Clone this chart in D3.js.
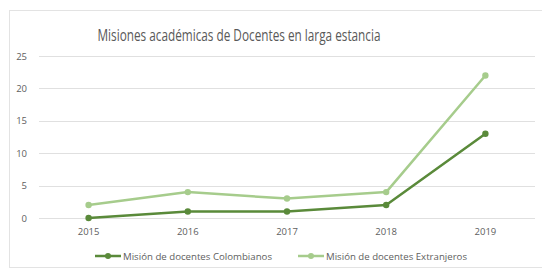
<!DOCTYPE html>
<html><head><meta charset="utf-8">
<script src="https://cdn.jsdelivr.net/npm/d3@7"></script>
<style>body{margin:0;background:#fff;}svg{display:block;}</style>
</head><body>
<svg id="c" width="542" height="269"></svg>
<script>
const years = ["2015","2016","2017","2018","2019"];
const colombianos = [0,1,1,2,13];
const extranjeros = [2,4,3,4,22];
const yTicks = [0,5,10,15,20,25];
const seriesNames = ["Misión de docentes Colombianos","Misión de docentes Extranjeros"];
const seriesColors = ["#5a8a3a","#a6cc8c"];
const title = "Misiones académicas de Docentes en larga estancia";

const svg = d3.select("#c");
const font = "'Open Sans', 'Liberation Sans', sans-serif";
// chart border
svg.append("rect").attr("x",9.5).attr("y",10.5).attr("width",560).attr("height",257)
  .attr("fill","#fff").attr("stroke","#e3e3e3");

const x = d3.scalePoint().domain(years).range([39,535]).padding(0.5);
const y = d3.scaleLinear().domain([0,25]).range([218,56]);

// grid
svg.append("g").selectAll("line").data(yTicks).join("line")
  .attr("x1",39).attr("x2",535).attr("y1",d=>Math.round(y(d))+0.5).attr("y2",d=>Math.round(y(d))+0.5)
  .attr("stroke","#e0e0e0").attr("stroke-width",1);

// y labels
svg.append("g").selectAll("text").data(yTicks).join("text")
  .attr("x",27).attr("y",d=>y(d)+3.5).attr("text-anchor","end")
  .attr("font-family",font).attr("font-size",9.5).attr("fill","#606060").text(d=>d);

// x labels
svg.append("g").selectAll("text").data(years).join("text")
  .attr("x",d=>x(d)).attr("y",235).attr("text-anchor","middle")
  .attr("font-family",font).attr("font-size",9.5).attr("fill","#606060").text(d=>d);

// title
svg.append("text").attr("x",239).attr("y",40.5).attr("text-anchor","middle")
  .attr("font-family",font).attr("font-size",15.5).attr("fill","#595959")
  .attr("textLength",283).attr("lengthAdjust","spacingAndGlyphs").text(title);

const line = d3.line().x((d,i)=>x(years[i])).y(d=>y(d));
[extranjeros, colombianos].forEach((data,k)=>{
  const idx = k===0?1:0;
  const g = svg.append("g");
  g.append("path").attr("d",line(data)).attr("fill","none")
    .attr("stroke",seriesColors[idx]).attr("stroke-width",2.5).attr("stroke-linejoin","round");
  g.selectAll("circle").data(data).join("circle")
    .attr("cx",(d,i)=>x(years[i])).attr("cy",d=>y(d)).attr("r",3.2).attr("fill",seriesColors[idx]);
});

// legend
const legX = [95, 298];
seriesNames.forEach((n,i)=>{
  const g = svg.append("g");
  g.append("line").attr("x1",legX[i]).attr("x2",legX[i]+26).attr("y1",256).attr("y2",256)
    .attr("stroke",seriesColors[i]).attr("stroke-width",2.5);
  g.append("circle").attr("cx",legX[i]+13).attr("cy",256).attr("r",3).attr("fill",seriesColors[i]);
  g.append("text").attr("x",legX[i]+28).attr("y",259.5).attr("font-family",font)
    .attr("font-size",9.5).attr("fill","#606060")
    .attr("textLength", i===0?149:141).attr("lengthAdjust","spacingAndGlyphs").text(n);
});
</script>
</body></html>
